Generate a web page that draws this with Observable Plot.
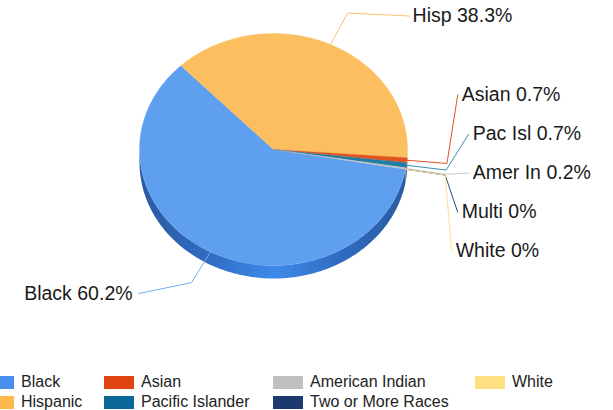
<!DOCTYPE html>
<html><head><meta charset="utf-8">
<script src="https://cdn.jsdelivr.net/npm/d3@7"></script>
<script src="https://cdn.jsdelivr.net/npm/@observablehq/plot@0.6"></script>
<style>
body{margin:0;background:#fff;font-family:"Liberation Sans",Arial,sans-serif;}
#wrap{position:relative;width:613px;height:410px;overflow:hidden;background:#fff;}
#legend{position:absolute;left:0;top:0;width:613px;height:410px;pointer-events:none;}
.lab{position:absolute;font-size:16px;color:#222;line-height:20px;white-space:nowrap;}
.sw{position:absolute;width:30px;height:13px;}
</style></head><body><div id="wrap"><div id="chart"></div><div id="legend"></div></div>
<script>
// ---- data ----
const categories = ["Black", "Hispanic", "Asian", "Pacific Islander", "American Indian", "Two or More Races", "White"];
const shortLabels = ["Black", "Hisp", "Asian", "Pac Isl", "Amer In", "Multi", "White"];
const percents = [60.2, 38.3, 0.7, 0.7, 0.2, 0, 0];

// ---- styles ----
const topColors = ["#5e9ff0", "#fbbf60", "#e2531f", "#1f7ea6", "#c0c0c0", "#1c3a6e", "#ffe080"];
const legendColors = ["#4a8ef0", "#ffb84a", "#e04410", "#0a6898", "#c0c0c0", "#1c3a6e", "#ffe080"];
const sideColors = ["url(#blackSide)", "#d8963a", "#b53a10", "#0d5a80", "#9a9a9a", "#142a50", "#d8bc60"];
const lineColors = ["#7aaef0", "#fbc070", "#e2531f", "#3a8db5", "#c8c8c8", "#2a4a80", "#ffe090"];

// ---- layout ----
const W = 613, H = 370;
const cx = 273, cy = 149, rx = 134, ry = 116, depth = 13;
const startDeg = 9.8;          // where the first slice (Black) starts, clockwise from east
const elbowR = 1.3;
const smallIndent = [11, 0, 0, 11, 17];
const labelSize = 19.5;

const total = d3.sum(percents);
let acc = startDeg;
const slices = categories.map((c, i) => {
  const span = percents[i] / total * 360;
  const s = {i, a0: acc, a1: acc + span};
  acc += span;
  return s;
});
function pt(deg, r = 1, dy = 0) {
  const t = deg * Math.PI / 180;
  return {x: cx + r * rx * Math.cos(t), y: cy + r * ry * Math.sin(t) + dy};
}
function arcPts(a0, a1, dy) {
  const n = Math.max(2, Math.ceil(Math.abs(a1 - a0)) + 1);
  return d3.range(n).map(k => pt(a0 + (a1 - a0) * k / (n - 1), 1, dy));
}

const marks = [];
// side walls (front half only)
slices.forEach(s => {
  if (s.a1 - s.a0 <= 0) return;
  for (let k = -1; k <= 2; k++) {
    const lo = Math.max(s.a0, k * 360), hi = Math.min(s.a1, k * 360 + 180);
    if (hi > lo) {
      const poly = arcPts(lo, hi, 0).concat(arcPts(lo, hi, depth).reverse());
      marks.push(Plot.line(poly, {x: "x", y: "y", fill: sideColors[s.i], stroke: "none"}));
    }
  }
});
// top faces
slices.forEach(s => {
  if (s.a1 - s.a0 <= 0) return;
  const poly = [{x: cx, y: cy}, ...arcPts(s.a0, s.a1, 0), {x: cx, y: cy}];
  marks.push(Plot.line(poly, {x: "x", y: "y", fill: topColors[s.i], stroke: topColors[s.i], strokeWidth: 0.3}));
});

// labels + leader lines
const small = slices.filter(s => percents[s.i] < 5);
const smallElbowY = d3.mean(small, s => pt((s.a0 + s.a1) / 2, elbowR).y);
const smallBaseX = cx + elbowR * rx + 25;
const texts = [];
slices.forEach(s => {
  const mid = (s.a0 + s.a1) / 2;
  const edge = pt(mid), elbow = pt(mid, elbowR);
  let end, tx, ty, anchor;
  const j = small.indexOf(s);
  if (j >= 0) {
    ty = smallElbowY + 1.5 + (j - (small.length - 1) / 2) * 39;
    tx = smallBaseX - smallIndent[j];
    end = {x: tx - 4, y: ty};
    anchor = "start";
  } else if (Math.cos(mid * Math.PI / 180) >= 0) {
    end = {x: elbow.x + 62, y: elbow.y + 3};
    tx = end.x + 3; ty = end.y; anchor = "start";
  } else {
    end = {x: elbow.x - 53, y: elbow.y + 11};
    tx = end.x - 6; ty = end.y; anchor = "end";
  }
  marks.push(Plot.line([edge, elbow, end], {x: "x", y: "y", stroke: lineColors[s.i], strokeWidth: 1}));
  texts.push({x: tx, y: ty, anchor, text: `${shortLabels[s.i]} ${percents[s.i]}%`});
});
["start", "end"].forEach(a => {
  marks.push(Plot.text(texts.filter(t => t.anchor === a), {
    x: "x", y: "y", text: "text", textAnchor: a, fontSize: labelSize, fill: "#1a1a1a"
  }));
});

const chart = Plot.plot({
  width: W, height: H, margin: 0,
  x: {domain: [0, W], axis: null},
  y: {domain: [0, H], reverse: true, axis: null},
  style: {fontFamily: "'Liberation Sans', Arial, sans-serif", background: "white", overflow: "visible"},
  marks
});
// gradient for the Black side wall
const ns = "http://www.w3.org/2000/svg";
const defs = document.createElementNS(ns, "defs");
const grad = document.createElementNS(ns, "linearGradient");
grad.setAttribute("id", "blackSide");
grad.setAttribute("gradientUnits", "userSpaceOnUse");
grad.setAttribute("x1", cx - rx); grad.setAttribute("x2", cx + rx);
grad.setAttribute("y1", 0); grad.setAttribute("y2", 0);
[[0, "#2a5aa0"], [0.25, "#2f6cc0"], [0.5, "#3d8aea"], [0.75, "#2f6cc0"], [1, "#2a5aa0"]].forEach(([o, c]) => {
  const st = document.createElementNS(ns, "stop");
  st.setAttribute("offset", o); st.setAttribute("stop-color", c);
  grad.appendChild(st);
});
defs.appendChild(grad);
chart.insertBefore(defs, chart.firstChild);
document.getElementById("chart").appendChild(chart);

// legend (HTML below the SVG)
const legendCols = [-16, 104, 273, 475];
const legendRows = [376, 396];
const leg = document.getElementById("legend");
categories.forEach((c, i) => {
  const col = Math.floor(i / 2), row = i % 2;
  const sw = document.createElement("div");
  sw.className = "sw";
  sw.style.left = legendCols[col] + "px";
  sw.style.top = legendRows[row] + "px";
  sw.style.background = legendColors[i];
  leg.appendChild(sw);
  const lb = document.createElement("div");
  lb.className = "lab";
  lb.style.left = (legendCols[col] + 37) + "px";
  lb.style.top = (legendRows[row] - 4) + "px";
  lb.textContent = c;
  leg.appendChild(lb);
});
</script></body></html>
